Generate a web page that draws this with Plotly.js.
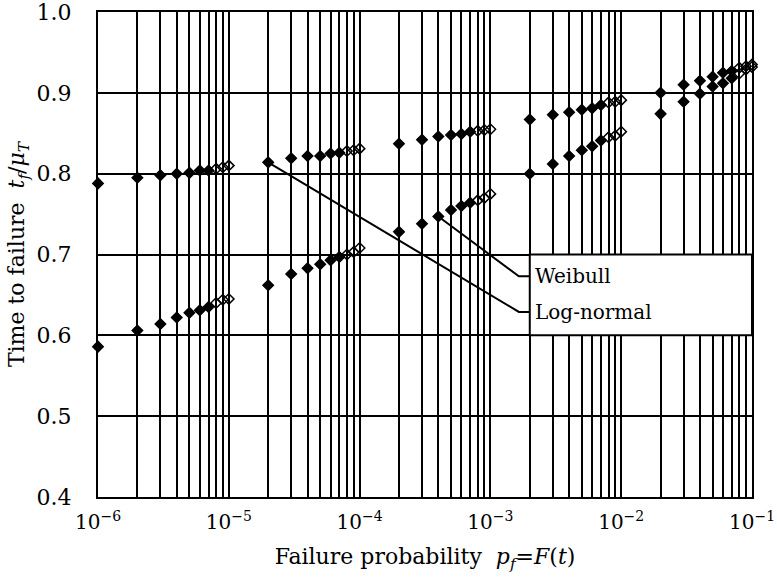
<!DOCTYPE html>
<html>
<head>
<meta charset="utf-8">
<script src="https://cdn.plot.ly/plotly-3.0.1.min.js"></script>
<style>html,body{margin:0;padding:0;background:#fff;}#chart{width:777px;height:580px;}</style>
</head>
<body>
<div id="chart"></div>
<script>
// Failure probability positions for each sample group
const probGroup1 = [1e-6, 2e-6, 3e-6, 4e-6, 5e-6, 6e-6, 7e-6, 8e-6, 9e-6, 1e-5];
const probGroup2 = [2e-5, 3e-5, 4e-5, 5e-5, 6e-5, 7e-5, 8e-5, 9e-5, 1e-4];
const probGroup3 = [2e-4, 3e-4, 4e-4, 5e-4, 6e-4, 7e-4, 8e-4, 9e-4, 1e-3];
const probGroup4 = [2e-3, 3e-3, 4e-3, 5e-3, 6e-3, 7e-3, 8e-3, 9e-3, 1e-2];
const probGroup5 = [2e-2, 3e-2, 4e-2, 5e-2, 6e-2, 7e-2, 8e-2, 9e-2, 1e-1];

// Time to failure t_f/mu_T — log-normal (upper) series
const logNormal1 = [0.788, 0.795, 0.798, 0.800, 0.801, 0.804, 0.804, 0.806, 0.808, 0.810];
const logNormal2 = [0.814, 0.819, 0.822, 0.822, 0.825, 0.826, 0.828, 0.829, 0.831];
const logNormal3 = [0.837, 0.842, 0.846, 0.848, 0.849, 0.852, 0.853, 0.854, 0.855];
const logNormal4 = [0.867, 0.873, 0.876, 0.879, 0.881, 0.885, 0.888, 0.889, 0.891];
const logNormal5 = [0.900, 0.910, 0.915, 0.920, 0.925, 0.927, 0.931, 0.933, 0.935];

// Weibull (lower) series
const weibull1 = [0.586, 0.606, 0.614, 0.622, 0.628, 0.631, 0.635, 0.640, 0.644, 0.645];
const weibull2 = [0.662, 0.676, 0.683, 0.688, 0.693, 0.697, 0.700, 0.703, 0.708];
const weibull3 = [0.728, 0.738, 0.747, 0.755, 0.760, 0.764, 0.767, 0.770, 0.775];
const weibull4 = [0.800, 0.812, 0.822, 0.829, 0.834, 0.841, 0.845, 0.847, 0.852];
const weibull5 = [0.874, 0.889, 0.899, 0.908, 0.912, 0.918, 0.924, 0.929, 0.932];

// Leader lines from labels to series
const weibullLeaderX = [4e-4, 1.65e-3, 2e-3];
const weibullLeaderY = [0.747, 0.673, 0.673];
const logNormalLeaderX = [2e-5, 1.65e-3, 2e-3];
const logNormalLeaderY = [0.814, 0.629, 0.629];

const labelNames = ["Weibull", "Log-normal"];

// Axis ticks
const decadeExponents = [-6, -5, -4, -3, -2, -1];
const yTickVals = [0.4, 0.5, 0.6, 0.7, 0.8, 0.9, 1.0];
const yTickText = ["0.4", "0.5", "0.6", "0.7", "0.8", "0.9", "1.0"];

const xTickVals = [];
const xTickText = [];
const xMinorVals = [];
decadeExponents.forEach(function (e, i) {
  xTickVals.push(Math.pow(10, e));
  xTickText.push("10<sup>\u2212" + (-e) + "</sup>");
  if (i < decadeExponents.length - 1) {
    for (let k = 2; k <= 9; k++) xMinorVals.push(k * Math.pow(10, e));
  }
});

const groups = [
  [probGroup1, logNormal1, weibull1],
  [probGroup2, logNormal2, weibull2],
  [probGroup3, logNormal3, weibull3],
  [probGroup4, logNormal4, weibull4],
  [probGroup5, logNormal5, weibull5]
];

function symbolsFor(n) {
  const s = [];
  for (let i = 0; i < n; i++) s.push(i < n - 3 ? "diamond" : "diamond-open");
  return s;
}

const traces = [];
groups.forEach(function (g) {
  [g[1], g[2]].forEach(function (ys) {
    traces.push({
      type: "scatter", mode: "markers", x: g[0], y: ys,
      marker: { symbol: symbolsFor(ys.length), size: 8, color: "#000",
                line: { color: "#000", width: 1.5 } },
      hoverinfo: "x+y", showlegend: false, cliponaxis: false
    });
  });
});

traces.push({ type: "scatter", mode: "lines", x: weibullLeaderX, y: weibullLeaderY,
  line: { color: "#000", width: 2 }, showlegend: false, hoverinfo: "skip" });
traces.push({ type: "scatter", mode: "lines", x: logNormalLeaderX, y: logNormalLeaderY,
  line: { color: "#000", width: 2 }, showlegend: false, hoverinfo: "skip" });

const serif = "DejaVu Serif, Liberation Serif, serif";

const layout = {
  width: 777, height: 580,
  margin: { l: 98, r: 25, t: 12, b: 83 },
  paper_bgcolor: "#fff", plot_bgcolor: "#fff",
  font: { family: serif, color: "#000", size: 22 },
  showlegend: false,
  xaxis: {
    type: "log", range: [-6.00005, -0.99995],
    tickmode: "array", tickvals: xTickVals, ticktext: xTickText,
    showgrid: true, gridcolor: "#000", gridwidth: 2,
    minor: { tickmode: "array", tickvals: xMinorVals, showgrid: true,
             gridcolor: "#000", gridwidth: 2, ticks: "" },
    showline: true, linecolor: "#000", linewidth: 2, mirror: true,
    ticks: "", ticklabelstandoff: 6, ticklabeloverflow: "allow", zeroline: false,
    tickfont: { family: serif, size: 20, color: "#000" },
    title: { text: "Failure probability  <i>p<sub>f</sub></i>=<i>F</i>(<i>t</i>)",
             font: { family: serif, size: 22, color: "#000" }, standoff: 16 }
  },
  yaxis: {
    range: [0.39995, 1.00005],
    tickmode: "array", tickvals: yTickVals, ticktext: yTickText,
    showgrid: true, gridcolor: "#000", gridwidth: 2,
    showline: true, linecolor: "#000", linewidth: 2, mirror: true,
    ticks: "", ticklabelstandoff: 20, ticklabeloverflow: "allow", zeroline: false,
    tickfont: { family: serif, size: 22, color: "#000" },
    title: { text: "Time to failure  <i>t<sub>f</sub></i>/<i>μ<sub>T</sub></i>",
             font: { family: serif, size: 22, color: "#000" }, standoff: 6 }
  },
  shapes: [{
    type: "rect", xref: "x", yref: "y", x0: 2e-3, x1: 1e-1, y0: 0.6, y1: 0.7,
    fillcolor: "#fff", line: { color: "#000", width: 2 }, layer: "above"
  }],
  annotations: [
    { xref: "x", yref: "y", x: Math.log10(2.1e-3), y: weibullLeaderY[2], text: labelNames[0],
      showarrow: false, xanchor: "left", yanchor: "middle",
      font: { family: serif, size: 20, color: "#000" } },
    { xref: "x", yref: "y", x: Math.log10(2.1e-3), y: logNormalLeaderY[2], text: labelNames[1],
      showarrow: false, xanchor: "left", yanchor: "middle",
      font: { family: serif, size: 20, color: "#000" } }
  ]
};

Plotly.newPlot("chart", traces, layout, { displayModeBar: false, staticPlot: true });
</script>
</body>
</html>
